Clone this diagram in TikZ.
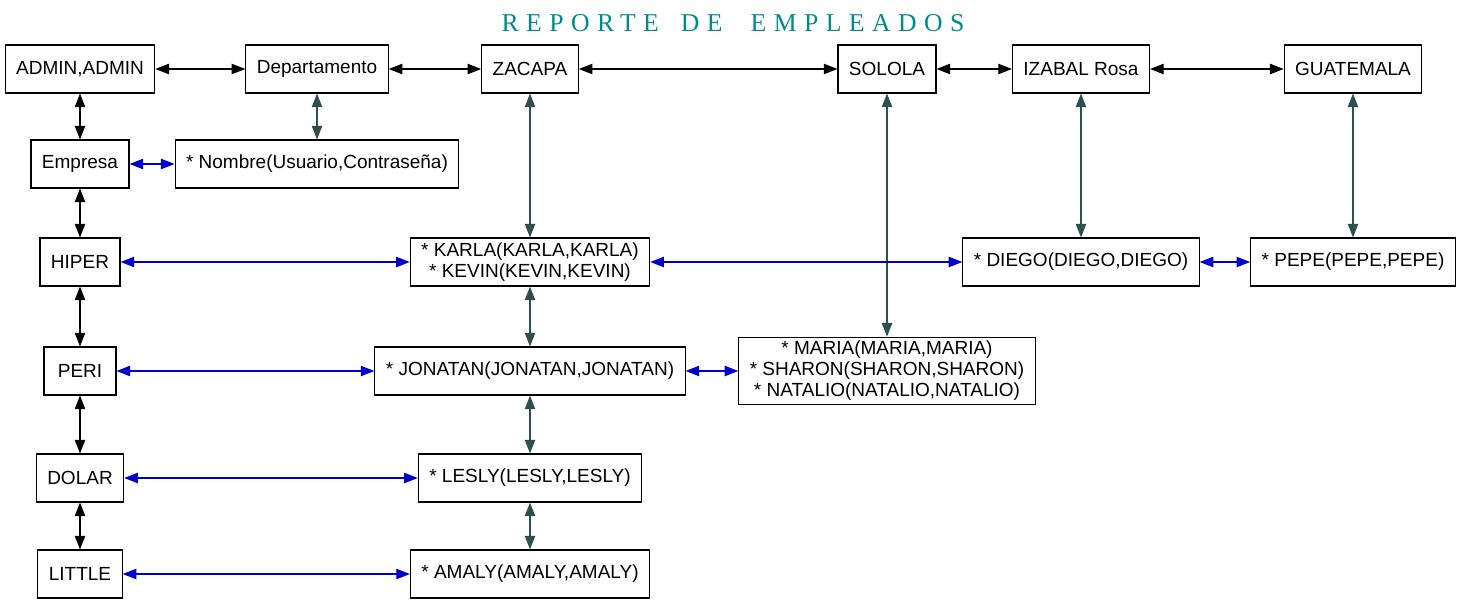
\documentclass[tikz,border=0pt]{standalone}
\usepackage{fontspec}
\setmainfont{Liberation Sans}
\newfontfamily\titlefont[LetterSpace=29]{Liberation Serif}
\usetikzlibrary{arrows.meta}
\definecolor{edgeblue}{HTML}{0000CD}
\definecolor{slate}{HTML}{2F4F4F}
\definecolor{titlecyan}{HTML}{008B8B}
\begin{document}
\begin{tikzpicture}[x=0.5pt, y=-0.5pt, line width=0.55pt,
    >={Triangle[length=6.8pt,width=5.2pt]},
    box/.style={draw, minimum height=24pt, minimum width=36pt, inner xsep=5.5pt, inner ysep=2pt,
        align=center, font=\fontsize{9.5}{10.5}\selectfont},
    blk/.style={<->, black},
    dsg/.style={<->, slate},
    blu/.style={<->, edgeblue}]
    \useasboundingbox (0,0) rectangle (1462,604);
    \node[font=\titlefont\fontsize{12.85}{15}\selectfont, text=titlecyan, inner sep=0pt] (title) at (733,23)
        {REPORTE\hspace{11pt}DE\hspace{14pt}EMPLEADOS};
    % top row
    \node[box] (admin) at (80,69) {ADMIN,ADMIN};
    \node[box] (depto) at (317,69) {Departamento};
    \node[box] (zacapa) at (530,69) {ZACAPA};
    \node[box] (solola) at (887,69) {SOLOLA};
    \node[box] (izabal) at (1081,69) {IZABAL Rosa};
    \node[box] (guate) at (1353,69) {GUATEMALA};
    % left column
    \node[box] (empresa) at (80,164) {Empresa};
    \node[box] (hiper) at (80,262) {HIPER};
    \node[box] (peri) at (80,371) {PERI};
    \node[box] (dolar) at (80,478) {DOLAR};
    \node[box] (little) at (80,574) {LITTLE};
    % users
    \node[box] (nombre) at (317,164) {* Nombre(Usuario,Contraseña)};
    \node[box] (karla) at (530,262) {* KARLA(KARLA,KARLA)\\* KEVIN(KEVIN,KEVIN)};
    \node[box] (diego) at (1081,262) {* DIEGO(DIEGO,DIEGO)};
    \node[box] (pepe) at (1353,262) {* PEPE(PEPE,PEPE)};
    \node[box] (jonatan) at (530,371) {* JONATAN(JONATAN,JONATAN)};
    \node[box] (maria) at (887,371) {* MARIA(MARIA,MARIA)\\* SHARON(SHARON,SHARON)\\* NATALIO(NATALIO,NATALIO)};
    \node[box] (lesly) at (530,478) {* LESLY(LESLY,LESLY)};
    \node[box] (amaly) at (530,574) {* AMALY(AMALY,AMALY)};
    % black links
    \draw[blk] (admin) -- (depto);
    \draw[blk] (depto) -- (zacapa);
    \draw[blk] (zacapa) -- (solola);
    \draw[blk] (solola) -- (izabal);
    \draw[blk] (izabal) -- (guate);
    \draw[blk] (admin) -- (empresa);
    \draw[blk] (empresa) -- (hiper);
    \draw[blk] (hiper) -- (peri);
    \draw[blk] (peri) -- (dolar);
    \draw[blk] (dolar) -- (little);
    % slate links
    \draw[dsg] (depto) -- (nombre);
    \draw[dsg] (zacapa) -- (karla);
    \draw[dsg] (solola) -- (maria);
    \draw[dsg] (izabal) -- (diego);
    \draw[dsg] (guate) -- (pepe);
    \draw[dsg] (karla) -- (jonatan);
    \draw[dsg] (jonatan) -- (lesly);
    \draw[dsg] (lesly) -- (amaly);
    % blue links
    \draw[blu] (empresa) -- (nombre);
    \draw[blu] (hiper) -- (karla);
    \draw[blu] (karla) -- (diego);
    \draw[blu] (diego) -- (pepe);
    \draw[blu] (peri) -- (jonatan);
    \draw[blu] (jonatan) -- (maria);
    \draw[blu] (dolar) -- (lesly);
    \draw[blu] (little) -- (amaly);
\end{tikzpicture}
\end{document}
